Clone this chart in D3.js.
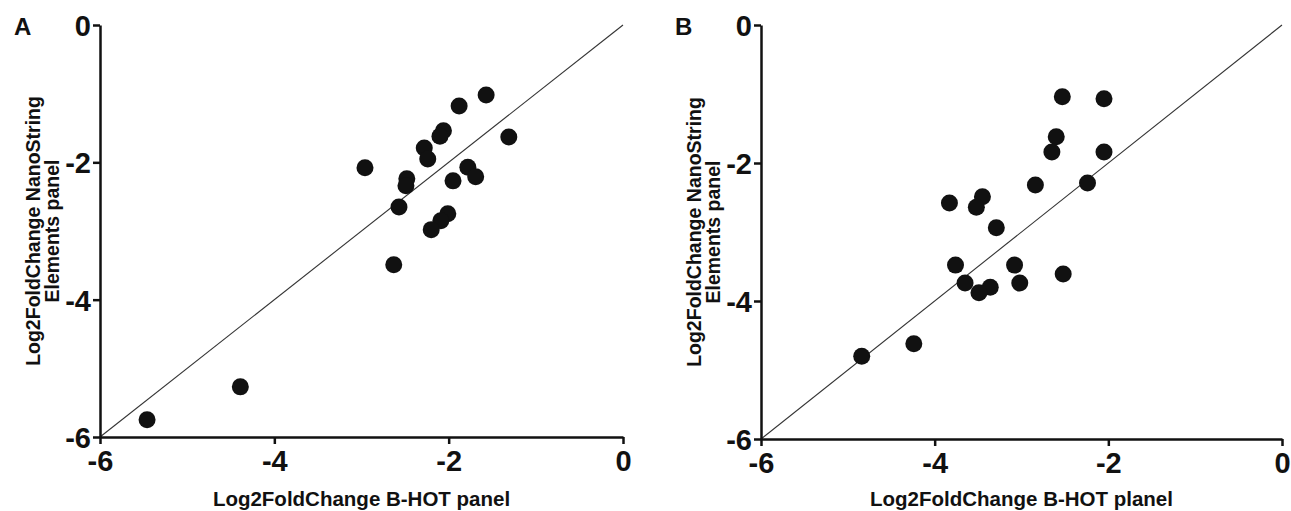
<!DOCTYPE html>
<html>
<head>
<meta charset="utf-8">
<script src="https://cdn.jsdelivr.net/npm/d3@7"></script>
<style>
  body { margin: 0; background: #fff; }
  text { font-family: "Liberation Sans", Arial, sans-serif; font-weight: bold; fill: #111; }
  .tk text { font-family: "Liberation Sans Narrow", "Liberation Sans", Arial, sans-serif; }
</style>
</head>
<body>
<svg width="1291" height="511"></svg>
<script>
var tickValues = [-6, -4, -2, 0];

// panel A: B-HOT panel vs NanoString Elements panel
var aX = [-1.57, -1.88, -2.06, -2.10, -1.31, -2.28, -2.24, -2.96, -2.48, -2.49,
          -1.78, -1.69, -1.95, -2.57, -2.01, -2.09, -2.20, -2.63, -4.39, -5.46];
var aY = [-1.02, -1.18, -1.54, -1.62, -1.63, -1.79, -1.95, -2.08, -2.24, -2.34,
          -2.07, -2.21, -2.27, -2.65, -2.75, -2.85, -2.98, -3.49, -5.27, -5.75];

// panel B
var bX = [-2.53, -2.05, -2.60, -2.65, -2.05, -2.84, -2.24, -3.45, -3.52, -3.83,
          -3.29, -3.76, -3.08, -2.52, -3.65, -3.36, -3.49, -3.02, -4.24, -4.84];
var bY = [-1.04, -1.07, -1.62, -1.84, -1.84, -2.32, -2.29, -2.49, -2.64, -2.58,
          -2.94, -3.48, -3.48, -3.61, -3.74, -3.80, -3.88, -3.74, -4.62, -4.80];

var svg = d3.select("svg");

function panel(letter, xs, ys, xTitle, left, right, top, bottom) {
  var x = d3.scaleLinear().domain([-6, 0]).range([left, right]);
  var y = d3.scaleLinear().domain([-6, 0]).range([bottom, top]);
  var g = svg.append("g");

  // identity line
  g.append("line")
      .attr("x1", x(-6)).attr("y1", y(-6))
      .attr("x2", x(0)).attr("y2", y(0))
      .attr("stroke", "#333")
      .attr("stroke-width", 1.1);

  var data = xs.map(function(v, i) { return {x: v, y: ys[i]}; });
  g.selectAll("circle.pt")
    .data(data)
    .enter().append("circle")
      .attr("class", "pt")
      .attr("cx", function(d) { return x(d.x); })
      .attr("cy", function(d) { return y(d.y); })
      .attr("r", 8.5)
      .attr("fill", "#111");

  var fmt = function(d) { return String(d); };
  var xa = g.append("g")
      .attr("class", "tk")
      .attr("transform", "translate(0," + bottom + ")")
      .call(d3.axisBottom(x).tickValues(tickValues).tickFormat(fmt).tickSize(7).tickSizeOuter(0).tickPadding(6));
  var ya = g.append("g")
      .attr("class", "tk")
      .attr("transform", "translate(" + left + ",0)")
      .call(d3.axisLeft(y).tickValues(tickValues).tickFormat(fmt).tickSize(7).tickSizeOuter(0).tickPadding(2));

  [xa, ya].forEach(function(a) {
    a.attr("font-family", null);
    a.selectAll("path, line").attr("stroke", "#111").attr("stroke-width", 2.5);
    a.selectAll("text").attr("font-size", 29).attr("fill", "#111");
  });
  ya.selectAll("text").attr("dy", "0.36em");

  g.append("text")
      .attr("x", (left + right) / 2)
      .attr("y", 506)
      .attr("text-anchor", "middle")
      .attr("font-size", 20.5)
      .text(xTitle);

  var yt = g.append("text")
      .attr("transform", "translate(" + (left - 60) + "," + ((top + bottom) / 2) + ") rotate(-90)")
      .attr("text-anchor", "middle")
      .attr("font-size", 19.5);
  yt.append("tspan").attr("x", 0).attr("dy", 0).text("Log2FoldChange NanoString");
  yt.append("tspan").attr("x", 0).attr("dy", 19).text("Elements panel");

  g.append("text")
      .attr("x", left - 86)
      .attr("y", 35)
      .attr("font-size", 24)
      .text(letter);
}

panel("A", aX, aY, "Log2FoldChange B-HOT panel", 100, 623, 25, 437);
panel("B", bX, bY, "Log2FoldChange B-HOT planel", 761, 1282, 25, 439);
</script>
</body>
</html>
